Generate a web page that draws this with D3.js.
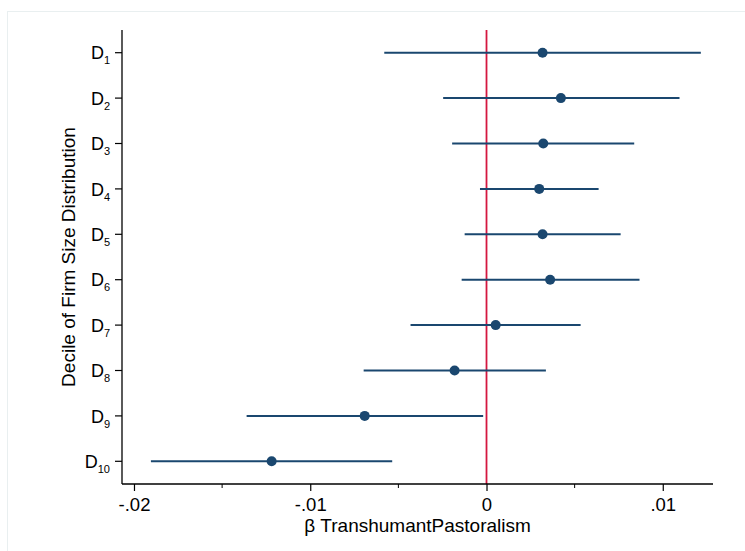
<!DOCTYPE html>
<html>
<head>
<meta charset="utf-8">
<script src="https://cdn.jsdelivr.net/npm/d3@7"></script>
<style>
  html, body { margin: 0; padding: 0; background: #fff; }
  svg { display: block; }
  text { font-family: "Liberation Sans", Arial, Helvetica, sans-serif; fill: #000; }
</style>
</head>
<body>
<svg id="chart" width="745" height="551"></svg>
<script>
// Data
const deciles = ["1", "2", "3", "4", "5", "6", "7", "8", "9", "10"];
const coef  = [0.00318, 0.00422, 0.00322, 0.00299, 0.00318, 0.00361, 0.00052, -0.00181, -0.00691, -0.01219];
const lower = [-0.00580, -0.00246, -0.00195, -0.00037, -0.00124, -0.00141, -0.00431, -0.00697, -0.01361, -0.01904];
const upper = [0.01216, 0.01095, 0.00838, 0.00636, 0.00761, 0.00868, 0.00534, 0.00337, -0.00019, -0.00535];
const majorTicks = [-0.02, -0.01, 0, 0.01];
const majorLabels = ["-.02", "-.01", "0", ".01"];
const minorTicks = [-0.015, -0.005, 0.005];
const xTitle = "β TranshumantPastoralism";
const yTitle = "Decile of Firm Size Distribution";

(function () {
const rows = deciles.map((d, i) => ({ d, b: coef[i], lo: lower[i], hi: upper[i] }));

const svg = d3.select("#chart");
const mLeft = 122, mRight = 713, mTop = 30, mBottom = 484;

// outer light frame
svg.append("rect")
  .attr("x", 7.5).attr("y", 11.5).attr("width", 760).attr("height", 560)
  .attr("fill", "none").attr("stroke", "#e9eff0").attr("stroke-width", 1);

const x = d3.scaleLinear().domain([-0.02068, 0.01285]).range([mLeft, mRight]);
const y = d3.scaleBand().domain(deciles).range([mTop, mBottom]).padding(0);
const yc = d => y(d) + y.bandwidth() / 2;

// zero reference line
svg.append("line")
  .attr("x1", x(0)).attr("x2", x(0)).attr("y1", mTop).attr("y2", mBottom)
  .attr("stroke", "#d41740").attr("stroke-width", 1.8);

// CI lines
svg.append("g").selectAll("line").data(rows).join("line")
  .attr("x1", r => x(r.lo)).attr("x2", r => x(r.hi))
  .attr("y1", r => yc(r.d)).attr("y2", r => yc(r.d))
  .attr("stroke", "#1a476f").attr("stroke-width", 2);

// points
svg.append("g").selectAll("circle").data(rows).join("circle")
  .attr("cx", r => x(r.b)).attr("cy", r => yc(r.d)).attr("r", 5)
  .attr("fill", "#1a476f");

// x axis
const xAxis = svg.append("g").attr("transform", `translate(0,${mBottom})`)
  .call(d3.axisBottom(x).tickValues(majorTicks)
    .tickFormat((v, i) => majorLabels[i]).tickSize(7).tickPadding(7).tickSizeOuter(0));
xAxis.select(".domain").attr("stroke", "#000").attr("stroke-width", 1.3)
  .attr("d", `M${mLeft},0H${mRight}`);
xAxis.selectAll(".tick line").attr("stroke", "#000").attr("stroke-width", 1.2);
xAxis.selectAll(".tick text").style("font-size", "18.5px")
  .style("font-family", "'Liberation Sans', Arial, sans-serif").attr("fill", "#000");

svg.append("g").attr("transform", `translate(0,${mBottom})`)
  .selectAll("line").data(minorTicks).join("line")
  .attr("x1", d => x(d)).attr("x2", d => x(d)).attr("y1", 0).attr("y2", 4)
  .attr("stroke", "#000").attr("stroke-width", 1);

// y axis
const yAxis = svg.append("g").attr("transform", `translate(${mLeft},0)`)
  .call(d3.axisLeft(y).tickSize(7).tickSizeOuter(0).tickFormat(""));
yAxis.select(".domain").attr("stroke", "#000").attr("stroke-width", 1.3)
  .attr("d", `M0,${mTop}V${mBottom}`);
yAxis.selectAll(".tick line").attr("stroke", "#000").attr("stroke-width", 1.2);

const lab = svg.append("g").selectAll("text").data(deciles).join("text")
  .attr("x", 110).attr("y", d => yc(d) + 6.6)
  .attr("text-anchor", "end")
  .style("font-size", "18px");
lab.append("tspan").text("D");
lab.append("tspan").attr("dy", 5).style("font-size", "11px").text(d => d);

// axis titles
svg.append("text")
  .attr("x", (mLeft + mRight) / 2).attr("y", 532)
  .attr("text-anchor", "middle").style("font-size", "19px")
  .text(xTitle);

svg.append("text")
  .attr("transform", `translate(75,${(mTop + mBottom) / 2}) rotate(-90)`)
  .attr("text-anchor", "middle").style("font-size", "19px")
  .text(yTitle);
})();
</script>
</body>
</html>
